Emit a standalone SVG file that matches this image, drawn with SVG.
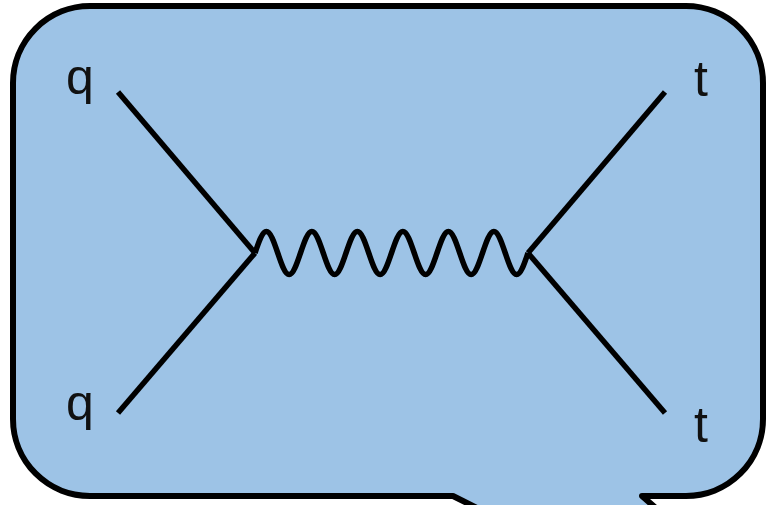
<svg xmlns="http://www.w3.org/2000/svg" width="767" height="505" viewBox="0 0 767 505">
<style>
.lbl{font-family:"Liberation Sans",Arial,sans-serif;font-size:50px;fill:#111}
.ln{stroke:#000;stroke-width:5.5;fill:none}
</style>
<g id="bubble">
<path d="M90,6 H686 A77,77 0 0 1 763,83 V419 A77,77 0 0 1 686,496 H642 L900,720 L453,496 H90 A77,77 0 0 1 13,419 V83 A77,77 0 0 1 90,6 Z" fill="#9DC3E6" stroke="#000" stroke-width="6" stroke-linejoin="round"/>
</g>
<g id="q-top"><text class="lbl" x="66" y="94">q</text></g>
<g id="q-bottom"><text class="lbl" x="66" y="420">q</text></g>
<g id="t-top"><text class="lbl" x="694" y="96">t</text></g>
<g id="t-bottom"><text class="lbl" x="694" y="442">t</text></g>
<g id="connectors">
<line class="ln" x1="118" y1="92" x2="255" y2="253"/>
<line class="ln" x1="118" y1="413" x2="255" y2="253"/>
<line class="ln" x1="665" y1="92" x2="528" y2="253"/>
<line class="ln" x1="665" y1="413" x2="528" y2="253"/>
<path class="ln" stroke-linejoin="round" d="M255,253
c3.709,-11.01 7.258,-21.5 11.375,-21.5 c4.117,0 7.666,10.49 11.375,21.5 c3.709,11.01 7.258,21.5 11.375,21.5 c4.117,0 7.666,-10.49 11.375,-21.5
c3.709,-11.01 7.258,-21.5 11.375,-21.5 c4.117,0 7.666,10.49 11.375,21.5 c3.709,11.01 7.258,21.5 11.375,21.5 c4.117,0 7.666,-10.49 11.375,-21.5
c3.709,-11.01 7.258,-21.5 11.375,-21.5 c4.117,0 7.666,10.49 11.375,21.5 c3.709,11.01 7.258,21.5 11.375,21.5 c4.117,0 7.666,-10.49 11.375,-21.5
c3.709,-11.01 7.258,-21.5 11.375,-21.5 c4.117,0 7.666,10.49 11.375,21.5 c3.709,11.01 7.258,21.5 11.375,21.5 c4.117,0 7.666,-10.49 11.375,-21.5
c3.709,-11.01 7.258,-21.5 11.375,-21.5 c4.117,0 7.666,10.49 11.375,21.5 c3.709,11.01 7.258,21.5 11.375,21.5 c4.117,0 7.666,-10.49 11.375,-21.5
c3.709,-11.01 7.258,-21.5 11.375,-21.5 c4.117,0 7.666,10.49 11.375,21.5 c3.709,11.01 7.258,21.5 11.375,21.5 c4.117,0 7.666,-10.49 11.375,-21.5"/>
</g>
</svg>
